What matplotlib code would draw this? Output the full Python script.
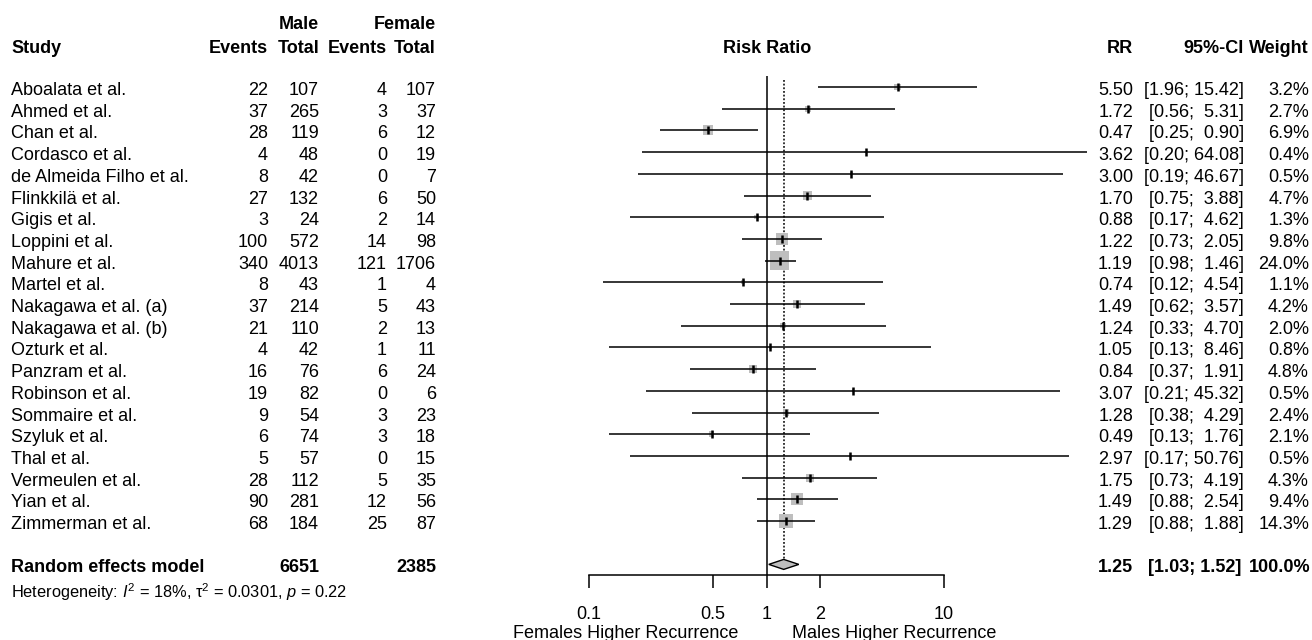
import matplotlib
matplotlib.use('Agg')
import matplotlib.pyplot as plt
import matplotlib.transforms as mtransforms
from matplotlib.ticker import FixedLocator, NullLocator
import numpy as np

# study-level data
studies = ["Aboalata et al.", "Ahmed et al.", "Chan et al.", "Cordasco et al.",
           "de Almeida Filho et al.", "Flinkkilä et al.", "Gigis et al.",
           "Loppini et al.", "Mahure et al.", "Martel et al.",
           "Nakagawa et al. (a)", "Nakagawa et al. (b)", "Ozturk et al.",
           "Panzram et al.", "Robinson et al.", "Sommaire et al.",
           "Szyluk et al.", "Thal et al.", "Vermeulen et al.", "Yian et al.",
           "Zimmerman et al."]
male_events = [22, 37, 28, 4, 8, 27, 3, 100, 340, 8, 37, 21, 4, 16, 19, 9, 6, 5, 28, 90, 68]
male_total = [107, 265, 119, 48, 42, 132, 24, 572, 4013, 43, 214, 110, 42, 76, 82, 54, 74, 57, 112, 281, 184]
female_events = [4, 3, 6, 0, 0, 6, 2, 14, 121, 1, 5, 2, 1, 6, 0, 3, 3, 0, 5, 12, 25]
female_total = [107, 37, 12, 19, 7, 50, 14, 98, 1706, 4, 43, 13, 11, 24, 6, 23, 18, 15, 35, 56, 87]
rr = [5.50, 1.72, 0.47, 3.62, 3.00, 1.70, 0.88, 1.22, 1.19, 0.74, 1.49,
      1.24, 1.05, 0.84, 3.07, 1.28, 0.49, 2.97, 1.75, 1.49, 1.29]
ci_low = [1.96, 0.56, 0.25, 0.20, 0.19, 0.75, 0.17, 0.73, 0.98, 0.12, 0.62,
          0.33, 0.13, 0.37, 0.21, 0.38, 0.13, 0.17, 0.73, 0.88, 0.88]
ci_high = [15.42, 5.31, 0.90, 64.08, 46.67, 3.88, 4.62, 2.05, 1.46, 4.54, 3.57,
           4.70, 8.46, 1.91, 45.32, 4.29, 1.76, 50.76, 4.19, 2.54, 1.88]
weight = [3.2, 2.7, 6.9, 0.4, 0.5, 4.7, 1.3, 9.8, 24.0, 1.1, 4.2,
          2.0, 0.8, 4.8, 0.5, 2.4, 2.1, 0.5, 4.3, 9.4, 14.3]

pooled_rr, pooled_lo, pooled_hi = 1.25, 1.03, 1.52
pooled_weight = 100.0
pooled_male_total = 6651
pooled_female_total = 2385
het_text = r"Heterogeneity: $\mathit{I}^2$ = 18%, $\mathrm{\tau}^2$ = 0.0301, $\mathit{p}$ = 0.22"

tick_values = [0.1, 0.5, 1, 2, 10]
tick_labels = ["0.1", "0.5", "1", "2", "10"]

plt.rcParams['font.family'] = ['Liberation Sans', 'DejaVu Sans']
plt.rcParams['mathtext.fontset'] = 'custom'
plt.rcParams['mathtext.rm'] = 'Liberation Sans'
plt.rcParams['mathtext.it'] = 'Liberation Sans:italic'
plt.rcParams['mathtext.bf'] = 'Liberation Sans:bold'

W, H = 1312, 640
FS = 13
GRAY = '#BEBEBE'
LW = 1.1

fig = plt.figure(figsize=(W / 100, H / 100), dpi=100)
# forest panel: 0.1 -> x=589px, 10 -> x=944px, rows from y=76px to 575px
ax = fig.add_axes([589 / W, 1 - 575 / H, 355 / W, (575 - 76) / H])
ax.set_xscale('log')
ax.set_xlim(0.1, 10)
row_px = 21.7
ax.set_ylim((575 - 87) / row_px, (76 - 87) / row_px)

rows = np.arange(len(studies))
pooled_row = len(studies) + 1

# squares sized by weight (area proportional to weight)
side_px = 19 * np.sqrt(np.array(weight) / max(weight))
ax.scatter(rr, rows, s=(side_px * 72 / 100) ** 2, marker='s', color=GRAY,
           linewidths=0, zorder=2)
ax.hlines(rows, ci_low, ci_high, color='black', lw=LW, zorder=3, clip_on=False)
ax.plot(rr, rows, linestyle='none', marker='|', markersize=5.5, mew=1.8,
        color='black', zorder=4)

# reference lines
ax.axvline(1, color='black', lw=LW, zorder=1)
dh = 5 / row_px
ax.plot([pooled_rr, pooled_rr], [-0.32, pooled_row - dh], color='black',
        lw=LW, linestyle=(0, (1.2, 1.2)), zorder=1)

# pooled diamond
ax.fill([pooled_lo, pooled_rr, pooled_hi, pooled_rr],
        [pooled_row, pooled_row - dh, pooled_row, pooled_row + dh],
        facecolor=GRAY, edgecolor='black', lw=1.0, zorder=3)

for side in ['top', 'left', 'right']:
    ax.spines[side].set_visible(False)
ax.spines['bottom'].set_bounds(0.1, 10)
ax.spines['bottom'].set_linewidth(LW)
ax.yaxis.set_visible(False)
ax.xaxis.set_major_locator(FixedLocator(tick_values))
ax.xaxis.set_minor_locator(NullLocator())
ax.set_xticklabels(tick_labels)
ax.tick_params(axis='x', direction='out', length=9.4, width=LW, pad=13,
               labelsize=FS)
ax.patch.set_visible(False)

trans = mtransforms.blended_transform_factory(fig.transFigure, ax.transData)
base = 8 / row_px


def put(px, row, s, ha='right', bold=False, size=FS):
    ax.text(px / W, row, s, transform=trans, ha=ha, va='baseline',
            fontsize=size, fontweight='bold' if bold else 'normal',
            clip_on=False)


# headers
h1 = (29 - 87) / row_px
h2 = (53 - 87) / row_px
put(319, h1, "Male", bold=True)
put(436, h1, "Female", bold=True)
put(11, h2, "Study", ha='left', bold=True)
put(268, h2, "Events", bold=True)
put(319, h2, "Total", bold=True)
put(387, h2, "Events", bold=True)
put(436, h2, "Total", bold=True)
put(767, h2, "Risk Ratio", ha='center', bold=True)
put(1133, h2, "RR", bold=True)
put(1244, h2, "95%-CI", bold=True)
put(1309, h2, "Weight", bold=True)

for i, name in enumerate(studies):
    y = i + base
    put(11, y, name, ha='left')
    put(268, y, str(male_events[i]))
    put(319, y, str(male_total[i]))
    put(387, y, str(female_events[i]))
    put(436, y, str(female_total[i]))
    put(1133, y, f"{rr[i]:.2f}")
    put(1244, y, f"[{ci_low[i]:.2f}; {ci_high[i]:5.2f}]")
    put(1309, y, f"{weight[i]:.1f}%")

y = pooled_row + base
put(11, y, "Random effects model", ha='left', bold=True)
put(319, y, str(pooled_male_total), bold=True)
put(436, y, str(pooled_female_total), bold=True)
put(1133, y, f"{pooled_rr:.2f}", bold=True)
put(1241, y, f"[{pooled_lo:.2f}; {pooled_hi:.2f}]", bold=True)
put(1310, y, f"{pooled_weight:.1f}%", bold=True)
put(11, (598 - 87) / row_px, het_text, ha='left', size=11.8)

fig.text(626 / W, 1 - 638 / H, "Females Higher Recurrence", ha='center',
         va='baseline', fontsize=FS)
fig.text(894 / W, 1 - 638 / H, "Males Higher Recurrence", ha='center',
         va='baseline', fontsize=FS)

fig.savefig('out.png', dpi=100)
